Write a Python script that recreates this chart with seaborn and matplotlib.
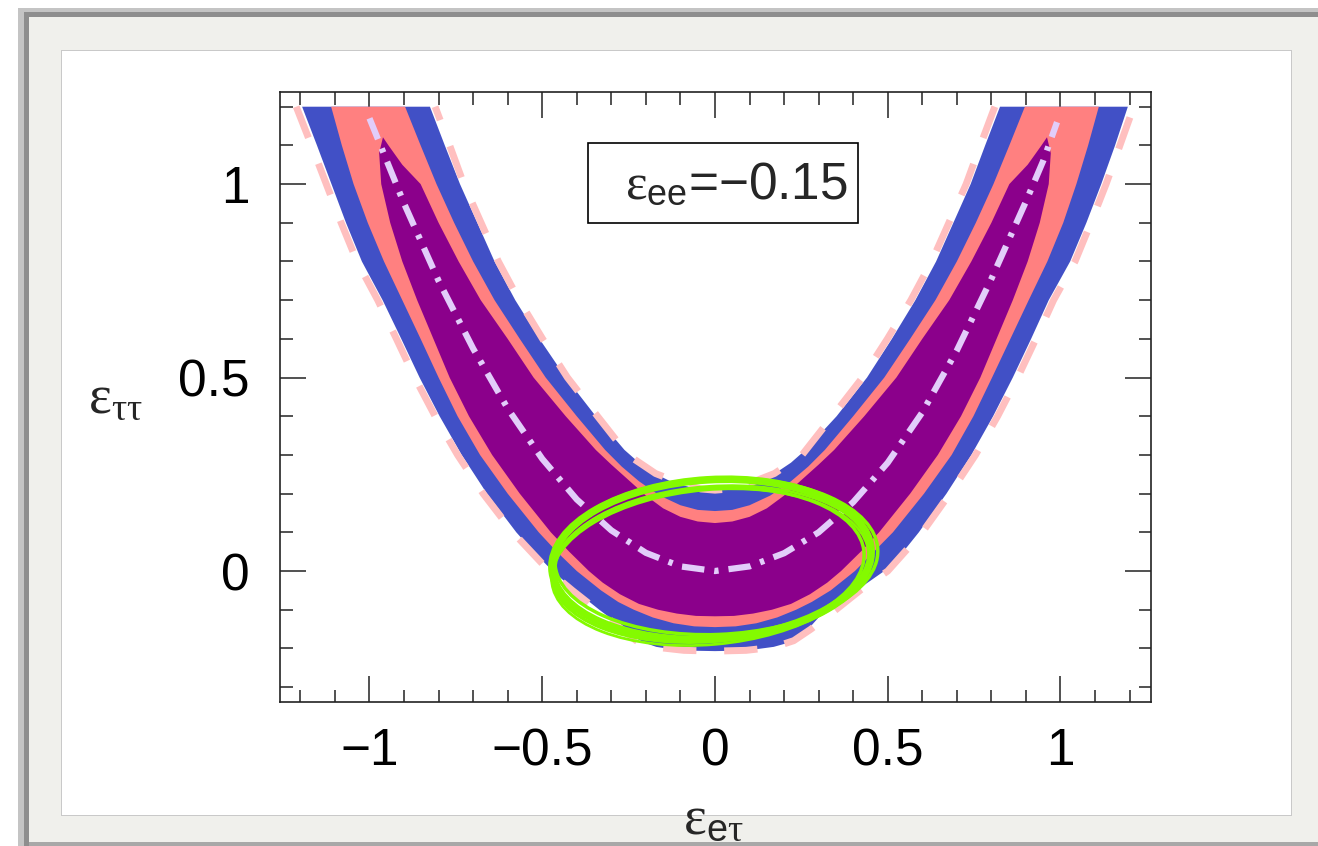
import matplotlib
matplotlib.use("Agg")
import matplotlib.pyplot as plt
from matplotlib.patches import Rectangle, Ellipse
from matplotlib.ticker import MultipleLocator, FixedLocator, FixedFormatter
import numpy as np
import pandas as pd
import seaborn as sns

# ---------------- data ----------------
X_LIM = (-1.259, 1.262)
Y_LIM = (-0.3385, 1.238)
X_MAJOR = [-1, -0.5, 0, 0.5, 1]
X_TICK_LABELS = ["\u22121", "\u22120.5", "0", "0.5", "1"]
Y_MAJOR = [0, 0.5, 1]
Y_TICK_LABELS = ["0", "0.5", "1"]

# blue (outermost) region: outer edge from upper-left, round the bottom, to upper-right
BLUE_OUT_X = [-1.195, -1.152, -1.110, -1.068, -1.022, -0.962, -0.908, -0.855, -0.797, -0.733,
              -0.660, -0.575, -0.525, -0.470, -0.405, -0.335, -0.290, -0.262, -0.235, -0.205,
              -0.170, -0.120, -0.060, 0.000,
              0.060, 0.120, 0.170, 0.210, 0.245, 0.270, 0.300, 0.340, 0.410, 0.490,
              0.545, 0.590, 0.670, 0.742, 0.805, 0.862, 0.915, 0.966, 1.028, 1.075,
              1.118, 1.158, 1.195]
BLUE_OUT_Y = [1.20, 1.10, 1.00, 0.90, 0.80, 0.70, 0.60, 0.50, 0.40, 0.30,
              0.20, 0.10, 0.05, 0.00, -0.05, -0.10, -0.13, -0.15, -0.17, -0.185,
              -0.196, -0.203, -0.206, -0.207,
              -0.206, -0.202, -0.196, -0.186, -0.170, -0.150, -0.120, -0.095, -0.050, 0.000,
              0.05, 0.10, 0.20, 0.30, 0.40, 0.50, 0.60, 0.70, 0.80, 0.90,
              1.00, 1.10, 1.20]
# blue inner edge (hole), from upper-right down and back up to upper-left
BLUE_IN_X = [0.825, 0.782, 0.740, 0.690, 0.640, 0.580, 0.512, 0.440, 0.352, 0.262, 0.220,
             0.170, 0.120, 0.060, 0.000, -0.060, -0.120, -0.170, -0.220, -0.262, -0.345,
             -0.432, -0.508, -0.578, -0.638, -0.688, -0.738, -0.782, -0.825]
BLUE_IN_Y = [1.20, 1.10, 1.00, 0.90, 0.80, 0.70, 0.60, 0.50, 0.40, 0.313, 0.280,
             0.250, 0.228, 0.214, 0.209, 0.214, 0.228, 0.250, 0.280, 0.313, 0.40,
             0.50, 0.60, 0.70, 0.80, 0.90, 1.00, 1.10, 1.20]

# salmon region
SALMON_OUT_X = [-1.111, -1.080, -1.046, -1.005, -0.958, -0.905, -0.852, -0.800, -0.745, -0.680,
                -0.600, -0.510, -0.458, -0.400, -0.330, -0.280, -0.235, -0.180, -0.120, -0.060,
                0.000,
                0.060, 0.120, 0.180, 0.235, 0.280, 0.335, 0.405, 0.460, 0.515, 0.605,
                0.685, 0.748, 0.802, 0.855, 0.908, 0.962, 1.008, 1.046, 1.080, 1.111]
SALMON_OUT_Y = [1.20, 1.10, 1.00, 0.90, 0.80, 0.70, 0.60, 0.50, 0.40, 0.30,
                0.20, 0.10, 0.05, 0.00, -0.05, -0.08, -0.10, -0.12, -0.135, -0.143,
                -0.145,
                -0.143, -0.135, -0.12, -0.10, -0.08, -0.05, 0.00, 0.05, 0.10, 0.20,
                0.30, 0.40, 0.50, 0.60, 0.70, 0.80, 0.90, 1.00, 1.10, 1.20]
SALMON_IN_X = [0.897, 0.852, 0.806, 0.755, 0.700, 0.638, 0.565, 0.490, 0.400, 0.318, 0.270,
               0.220, 0.160, 0.100, 0.050, 0.000, -0.050, -0.100, -0.160, -0.220, -0.270,
               -0.318, -0.400, -0.490, -0.565, -0.638, -0.700, -0.755, -0.806, -0.852, -0.897]
SALMON_IN_Y = [1.20, 1.10, 1.00, 0.90, 0.80, 0.70, 0.60, 0.50, 0.40, 0.313, 0.270,
               0.232, 0.195, 0.170, 0.158, 0.155, 0.158, 0.170, 0.195, 0.232, 0.270,
               0.313, 0.40, 0.50, 0.60, 0.70, 0.80, 0.90, 1.00, 1.10, 1.20]

# purple region (closes at the two tips)
PURPLE_OUT_X = [-0.961, -0.972, -0.966, -0.940, -0.905, -0.862, -0.815, -0.768, -0.712, -0.645,
                -0.565, -0.475, -0.422, -0.365, -0.325, -0.275, -0.220, -0.165, -0.110, -0.055,
                0.000,
                0.055, 0.110, 0.165, 0.220, 0.275, 0.325, 0.365, 0.422, 0.475, 0.565,
                0.645, 0.712, 0.768, 0.815, 0.862, 0.905, 0.940, 0.966, 0.972, 0.961]
PURPLE_OUT_Y = [1.121, 1.08, 1.00, 0.90, 0.80, 0.70, 0.60, 0.50, 0.40, 0.30,
                0.20, 0.10, 0.05, 0.00, -0.03, -0.06, -0.085, -0.10, -0.11, -0.116,
                -0.117,
                -0.116, -0.11, -0.10, -0.085, -0.06, -0.03, 0.00, 0.05, 0.10, 0.20,
                0.30, 0.40, 0.50, 0.60, 0.70, 0.80, 0.90, 1.00, 1.08, 1.121]
PURPLE_IN_X = [0.945, 0.905, 0.852, 0.800, 0.742, 0.678, 0.600, 0.525, 0.432, 0.345, 0.300,
               0.250, 0.200, 0.150, 0.100, 0.050, 0.000, -0.050, -0.100, -0.150, -0.200,
               -0.250, -0.300, -0.345, -0.432, -0.525, -0.600, -0.678, -0.742, -0.800, -0.852,
               -0.905, -0.945]
PURPLE_IN_Y = [1.10, 1.05, 1.00, 0.90, 0.80, 0.70, 0.60, 0.50, 0.40, 0.313, 0.275,
               0.235, 0.195, 0.162, 0.140, 0.128, 0.124, 0.128, 0.140, 0.162, 0.195,
               0.235, 0.275, 0.313, 0.40, 0.50, 0.60, 0.70, 0.80, 0.90, 1.00,
               1.05, 1.10]

# dashed pink contour (outer and inner parts)
DASH_OUT_X = [-1.212, -1.168, -1.125, -1.082, -1.036, -0.976, -0.922, -0.869, -0.810, -0.745,
              -0.671, -0.585, -0.480, -0.413, -0.342, -0.270, -0.228, -0.170, -0.090, 0.000,
              0.090, 0.170, 0.228, 0.278, 0.350, 0.420, 0.500, 0.600, 0.680, 0.754,
              0.818, 0.876, 0.929, 0.980, 1.042, 1.088, 1.132, 1.172, 1.212]
DASH_OUT_Y = [1.20, 1.10, 1.00, 0.90, 0.80, 0.70, 0.60, 0.50, 0.40, 0.30,
              0.20, 0.10, 0.00, -0.05, -0.10, -0.15, -0.18, -0.197, -0.205, -0.207,
              -0.205, -0.197, -0.18, -0.15, -0.10, -0.05, 0.00, 0.10, 0.20, 0.30,
              0.40, 0.50, 0.60, 0.70, 0.80, 0.90, 1.00, 1.10, 1.20]
DASH_IN_X = [0.810, 0.768, 0.727, 0.677, 0.627, 0.567, 0.499, 0.427, 0.340, 0.252, 0.172,
             0.095, 0.040, 0.000, -0.040, -0.095, -0.172, -0.252, -0.340, -0.427, -0.499,
             -0.567, -0.627, -0.677, -0.727, -0.768, -0.810]
DASH_IN_Y = [1.20, 1.10, 1.00, 0.90, 0.80, 0.70, 0.60, 0.50, 0.40, 0.300, 0.252,
             0.225, 0.212, 0.209, 0.212, 0.225, 0.252, 0.300, 0.40, 0.50, 0.60,
             0.70, 0.80, 0.90, 1.00, 1.10, 1.20]

# central dash-dot curve
CENTER_X = [-1.00, -0.95, -0.90, -0.80, -0.70, -0.60, -0.50, -0.40, -0.30, -0.20, -0.10, 0.00,
            0.10, 0.20, 0.30, 0.40, 0.50, 0.60, 0.70, 0.80, 0.90, 0.95, 0.99]
CENTER_Y = [1.17, 1.06, 0.95, 0.75, 0.575, 0.42, 0.29, 0.185, 0.105, 0.047, 0.012, 0.000,
            0.012, 0.046, 0.100, 0.178, 0.280, 0.410, 0.570, 0.755, 0.955, 1.060, 1.160]

# green ellipse (several overlapping strokes)
ELL_CX = [-0.010, -0.020, 0.004, -0.006, -0.014]
ELL_CY = [0.030, 0.016, 0.038, 0.024, 0.010]
ELL_W = [0.925, 0.905, 0.935, 0.915, 0.92]
ELL_H = [0.412, 0.396, 0.404, 0.390, 0.40]
ELL_ANGLE = [3.0, 4.0, 2.0, 3.5, 4.5]
ELL_LW = [5.5, 2.5, 2.5, 2.0, 2.0]

BOX_TEXT_VALUE = "\u22120.15"

# ---------------- style ----------------
sns.set_theme(style="ticks")
plt.rcParams["font.family"] = ["Liberation Sans", "DejaVu Sans"]
plt.rcParams["mathtext.fontset"] = "custom"
plt.rcParams["mathtext.rm"] = "Liberation Serif"
plt.rcParams["mathtext.it"] = "Liberation Serif:italic"
plt.rcParams["mathtext.sf"] = "Liberation Sans"
plt.rcParams["axes.unicode_minus"] = True

C_BLUE = "#4150c6"
C_SALMON = "#ff8080"
C_PURPLE = "#8b008b"
C_DASH = "#ffbfbf"
C_CENTER = "#e2cdfa"
C_GREEN = "#84fa00"

W, H = 1318, 846
fig = plt.figure(figsize=(W / 100, H / 100), dpi=100)
fig.patch.set_facecolor("white")


def frect(x0, ytop, w, h, color):
    fig.add_artist(Rectangle((x0 / W, 1 - (ytop + h) / H), w / W, h / H,
                             transform=fig.transFigure, facecolor=color,
                             edgecolor="none", zorder=-10))


# picture-frame decoration
frect(18, 8, W - 18, H - 8, "#c4c4c4")
frect(24, 12, W - 24, H - 12, "#8e8e8e")
frect(29, 17, W - 29, H - 17, "#f0f0ec")
frect(61, 50, 1292 - 61, 816 - 50, "#c9c9c9")
frect(62, 51, 1291 - 62, 815 - 51, "white")
frect(29, 842, W - 29, 4, "#a8a8a8")

ax = fig.add_axes([280 / W, 1 - 702 / H, (1151 - 280) / W, (702 - 92) / H])
ax.set_facecolor("white")

# filled regions
ax.fill(BLUE_OUT_X + BLUE_IN_X, BLUE_OUT_Y + BLUE_IN_Y, color=C_BLUE, lw=0, zorder=1)
ax.fill(SALMON_OUT_X + SALMON_IN_X, SALMON_OUT_Y + SALMON_IN_Y, color=C_SALMON, lw=0, zorder=3)
ax.fill(PURPLE_OUT_X + PURPLE_IN_X, PURPLE_OUT_Y + PURPLE_IN_Y, color=C_PURPLE, lw=0, zorder=4)

# dashed contour
for xs, ys in ((DASH_OUT_X, DASH_OUT_Y), (DASH_IN_X, DASH_IN_Y)):
    df = pd.DataFrame({"x": xs, "y": ys})
    sns.lineplot(data=df, x="x", y="y", sort=False, estimator=None, ax=ax,
                 color=C_DASH, linewidth=5.0, zorder=2)
    ax.lines[-1].set_linestyle((0, (4.8, 4.0)))
    ax.lines[-1].set_dash_capstyle("butt")

# central dash-dot curve
center_df = pd.DataFrame({"x": CENTER_X, "y": CENTER_Y})
sns.lineplot(data=center_df, x="x", y="y", sort=False, estimator=None, ax=ax,
             color=C_CENTER, linewidth=4.5, zorder=5)
ax.lines[-1].set_linestyle((0, (3.6, 1.6, 0.7, 1.6)))
ax.lines[-1].set_dash_capstyle("butt")

# green ellipse strokes
for cx, cy, w, h, ang, lw in zip(ELL_CX, ELL_CY, ELL_W, ELL_H, ELL_ANGLE, ELL_LW):
    ax.add_patch(Ellipse((cx, cy), w, h, angle=ang, fill=False,
                         edgecolor=C_GREEN, linewidth=lw, zorder=6))

# label box
ax.add_patch(Rectangle((-0.368, 0.899), 0.782, 0.207, facecolor="white",
                       edgecolor="black", linewidth=1.2, zorder=7))
ax.text(0.385, 0.962, r"$\mathrm{\varepsilon}_{\mathsf{ee}}$" + "=" + BOX_TEXT_VALUE,
        ha="right", va="baseline", fontsize=37, zorder=8)

# axes, ticks
ax.set_xlim(*X_LIM)
ax.set_ylim(*Y_LIM)
ax.xaxis.set_major_locator(FixedLocator(X_MAJOR))
ax.xaxis.set_major_formatter(FixedFormatter(X_TICK_LABELS))
ax.yaxis.set_major_locator(FixedLocator(Y_MAJOR))
ax.yaxis.set_major_formatter(FixedFormatter(Y_TICK_LABELS))
ax.xaxis.set_minor_locator(MultipleLocator(0.1))
ax.yaxis.set_minor_locator(MultipleLocator(0.1))
ax.tick_params(which="both", direction="in", top=True, right=True,
               color="#222222", width=1.1, labelsize=37, labelcolor="black")
ax.tick_params(which="major", length=18.5)
ax.tick_params(which="minor", length=9)
ax.tick_params(axis="y", which="major", pad=22)
ax.tick_params(axis="x", which="major", pad=18)
for s in ax.spines.values():
    s.set_visible(True)
    s.set_color("#222222")
    s.set_linewidth(1.2)
ax.set_xlabel("")
ax.set_ylabel("")
ax.grid(False)

# axis titles
fig.text(713 / W, 1 - 833 / H, r"$\mathrm{\varepsilon}_{\mathsf{e}\mathrm{\tau}}$",
         ha="center", va="baseline", fontsize=39, zorder=20)
fig.text(88 / W, 1 - 412 / H, r"$\mathrm{\varepsilon}_{\mathrm{\tau\tau}}$",
         ha="left", va="baseline", fontsize=39, zorder=20)

fig.savefig("out.png", dpi=100, facecolor="white")
